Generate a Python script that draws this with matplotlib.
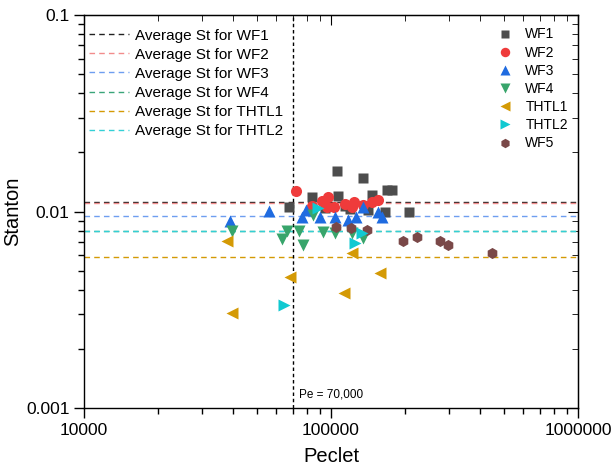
import matplotlib
matplotlib.use("Agg")
import matplotlib.pyplot as plt
from matplotlib.ticker import LogLocator, NullFormatter, FixedLocator

plt.rcParams['font.family'] = ['Liberation Sans', 'DejaVu Sans']

# ---- data ----
wf1_pe = [67700, 83750, 94560, 105460, 106440, 113950, 119400, 135160, 141200, 146970, 165430, 168550, 176600, 206340]
wf1_st = [0.01050, 0.01181, 0.01040, 0.01607, 0.01195, 0.01067, 0.01030, 0.01480, 0.01018, 0.01210, 0.00990, 0.01286, 0.01286, 0.00990]

wf2_pe = [72160, 83750, 91700, 97250, 102830, 96340, 113950, 121620, 123920, 146150, 154980, 135160]
wf2_st = [0.01271, 0.01067, 0.01131, 0.01181, 0.01050, 0.01050, 0.01092, 0.01050, 0.01117, 0.01117, 0.01144, 0.01079]

wf3_pe = [39010, 56100, 76100, 79220, 90260, 103800, 117170, 125890, 135160, 154980, 160430]
wf3_st = [0.00898, 0.01006, 0.00941, 0.01018, 0.00941, 0.00941, 0.00905, 0.00941, 0.01050, 0.00991, 0.00941]

wf4_pe = [39740, 63150, 66350, 74200, 77250, 84540, 92810, 103800, 121290, 134780]
wf4_st = [0.00796, 0.00722, 0.00796, 0.00796, 0.00675, 0.00960, 0.00786, 0.00777, 0.00777, 0.00733]

thtl1_pe = [37830, 39740, 68230, 112880, 121290, 157900]
thtl1_st = [0.00708, 0.00303, 0.00462, 0.00384, 0.00613, 0.00486]

thtl2_pe = [64520, 88350, 125080, 133530]
thtl2_st = [0.00334, 0.01038, 0.00689, 0.00777]

wf5_pe = [104760, 120170, 140290, 196200, 223590, 276320, 297720, 448500]
wf5_st = [0.00834, 0.00824, 0.00805, 0.00708, 0.00740, 0.00708, 0.00675, 0.00615]

avg_names = ['WF1', 'WF2', 'WF3', 'WF4', 'THTL1', 'THTL2']
avg_st = [0.0112, 0.0110, 0.00945, 0.0080, 0.0059, 0.0080]

pe_crit = 70000

# ---- styles ----
c_wf1 = '#4d4d4d'
c_wf2 = '#ef3b3b'
c_wf3 = '#1f6be0'
c_wf4 = '#38a56b'
c_thtl1 = '#d49a05'
c_thtl2 = '#11c9d1'
c_wf5 = '#7a4848'
avg_colors = ['#222222', '#f28c8c', '#6e9ef0', '#3aa57a', '#d49a05', '#33d0d6']

fig = plt.figure(figsize=(6.11, 4.68), dpi=100)
ax = fig.add_axes([0.1375, 0.128, 0.8085, 0.840])

# average lines
hlines = []
for name, st, col in zip(avg_names, avg_st, avg_colors):
	h = ax.axhline(st, color=col, lw=1.0, ls=(0, (4, 3)), zorder=1)
	h.set_label('Average St for ' + name)
	hlines.append(h)

ax.axvline(pe_crit, color='black', lw=1.0, ls=(0, (2.5, 2)), zorder=1)
ax.text(pe_crit * 1.06, 0.00113, 'Pe = 70,000', fontsize=8.5)

ms = 8
pts = []
pts.append(ax.plot(wf1_pe, wf1_st, 's', color=c_wf1, ms=7.5, mec='none', label='WF1', zorder=3)[0])
pts.append(ax.plot(wf2_pe, wf2_st, 'o', color=c_wf2, ms=ms, mec='none', label='WF2', zorder=4)[0])
pts.append(ax.plot(wf3_pe, wf3_st, '^', color=c_wf3, ms=ms, mec='none', label='WF3', zorder=5)[0])
pts.append(ax.plot(wf4_pe, wf4_st, 'v', color=c_wf4, ms=ms, mec='none', label='WF4', zorder=5)[0])
pts.append(ax.plot(thtl1_pe, thtl1_st, '<', color=c_thtl1, ms=ms, mec='none', label='THTL1', zorder=5)[0])
pts.append(ax.plot(thtl2_pe, thtl2_st, '>', color=c_thtl2, ms=ms, mec='none', label='THTL2', zorder=6)[0])
pts.append(ax.plot(wf5_pe, wf5_st, 'h', color=c_wf5, ms=ms, mec='none', label='WF5', zorder=5)[0])

ax.set_xscale('log')
ax.set_yscale('log')
ax.set_xlim(1e4, 1e6)
ax.set_ylim(1e-3, 1e-1)

ax.xaxis.set_major_locator(FixedLocator([1e4, 1e5, 1e6]))
ax.set_xticklabels(['10000', '100000', '1000000'])
ax.yaxis.set_major_locator(FixedLocator([1e-3, 1e-2, 1e-1]))
ax.set_yticklabels(['0.001', '0.01', '0.1'])
ax.xaxis.set_minor_locator(LogLocator(base=10, subs=range(2, 10)))
ax.yaxis.set_minor_locator(LogLocator(base=10, subs=range(2, 10)))
ax.xaxis.set_minor_formatter(NullFormatter())
ax.yaxis.set_minor_formatter(NullFormatter())
ax.tick_params(which='major', direction='out', length=7, width=1, labelsize=12.5)
ax.tick_params(which='minor', direction='out', length=4, width=1)

# mirrored ticks pointing inward on top and right
axt = ax.secondary_xaxis('top')
axt.xaxis.set_major_locator(FixedLocator([1e4, 1e5, 1e6]))
axt.xaxis.set_minor_locator(LogLocator(base=10, subs=range(2, 10)))
axt.tick_params(which='major', direction='in', length=7, labeltop=False)
axt.tick_params(which='minor', direction='in', length=4)
axr = ax.secondary_yaxis('right')
axr.yaxis.set_major_locator(FixedLocator([1e-3, 1e-2, 1e-1]))
axr.yaxis.set_minor_locator(LogLocator(base=10, subs=range(2, 10)))
axr.tick_params(which='major', direction='in', length=7, labelright=False)
axr.tick_params(which='minor', direction='in', length=4)

for sp in ax.spines.values():
	sp.set_linewidth(1.0)

ax.set_xlabel('Peclet', fontsize=14.5, labelpad=7)
ax.set_ylabel('Stanton', fontsize=14.5, labelpad=3)

leg1 = ax.legend(handles=hlines, loc='upper left', frameon=False, fontsize=11,
				 handlelength=2.6, handletextpad=0.4, labelspacing=0.33,
				 bbox_to_anchor=(-0.018, 1.0))
ax.add_artist(leg1)
ax.legend(handles=pts, loc='upper right', frameon=False, fontsize=10,
		  handletextpad=0.5, labelspacing=0.3, markerscale=0.85,
		  bbox_to_anchor=(1.005, 1.0))

fig.savefig('out.png', dpi=100)
